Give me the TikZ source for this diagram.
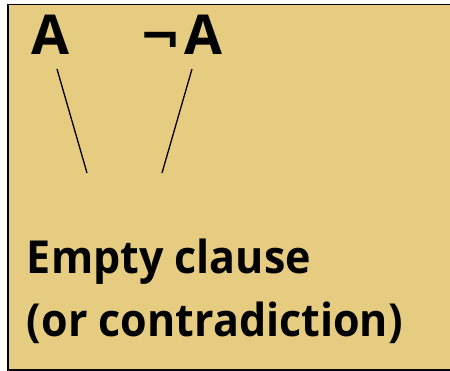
\documentclass[tikz,border=0pt]{standalone}
\usepackage{fontspec}
\setmainfont{Open Sans}
\newfontfamily\symfont{DejaVu Sans}
\definecolor{boxfill}{RGB}{230,204,128}
\begin{document}
\begin{tikzpicture}[x=1pt,y=1pt,
  lbl/.style={inner sep=0pt,outer sep=0pt,font=\fontsize{45.5}{50}\selectfont\bfseries,anchor=base west,xscale=0.945,transform shape},
  big/.style={inner sep=0pt,outer sep=0pt,font=\fontsize{55}{60}\selectfont\bfseries,anchor=base west},
  conn/.style={line width=1.3pt}]
\useasboundingbox (0,0) rectangle (450,371);
\fill[white] (0,0) rectangle (450,371);
\filldraw[fill=boxfill,draw=black,line width=1.8pt] (8,1) rectangle (460,366.5);
\node[big] (a) at (31,316) {A};
\node[big,font=\fontsize{50}{55}\selectfont\bfseries\symfont] (neg) at (139,316) {¬};
\node[big] (na) at (184,316) {A};
\node[lbl] (e1) at (27,97) {Empty clause};
\node[lbl] (e2) at (27,34) {(or contradiction)};
\coordinate (l1a) at (57,302);
\coordinate (l1b) at (87,198);
\coordinate (l2a) at (192,302);
\coordinate (l2b) at (162,198);
\draw[conn] (l1a) -- (l1b);
\draw[conn] (l2a) -- (l2b);
\end{tikzpicture}
\end{document}
